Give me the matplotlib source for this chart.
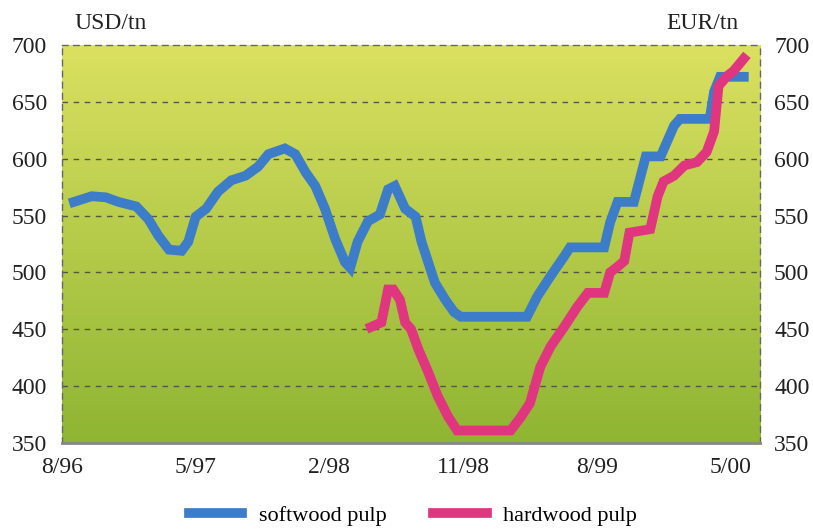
import matplotlib.pyplot as plt
import numpy as np

# months since Aug 1996
soft_x = [0.8, 2.0, 2.95, 3.8, 5.0, 5.8, 6.5, 7.2, 8.05, 8.5, 9.0, 9.7, 10.5, 11.4,
          12.35, 13.2, 13.9, 15.0, 15.7, 16.4, 17.05, 17.7, 18.4, 19.05, 19.4, 19.9,
          20.6, 21.4, 21.95, 22.4, 23.1, 23.8, 24.2, 24.8, 25.1, 25.8, 26.4, 26.85,
          31.3, 32.0, 32.9, 33.8, 34.2, 36.5, 36.9, 37.4, 38.5, 38.9, 39.3, 40.3,
          41.2, 41.6, 43.6, 43.9, 44.3, 45.9]
soft_y = [562, 567, 566, 562, 558, 547, 532, 520, 519, 527, 549, 556, 571, 581,
          585, 593, 604, 609, 604, 588, 576, 556, 529, 509, 504, 527,
          545, 551, 573, 576, 556, 549, 527, 503, 491, 476, 465, 461,
          461, 479, 497, 514, 522, 522, 544, 562, 562, 582, 602, 602,
          629, 635, 635, 659, 672, 672]

hard_x = [20.8, 21.5, 21.95, 22.3, 22.75, 23.1, 23.5, 24.0, 24.6, 25.3, 26.0, 26.6,
          30.2, 30.9, 31.5, 32.2, 32.9, 33.8, 34.7, 35.4, 36.5, 36.9, 37.4, 37.85,
          38.2, 39.6, 40.1, 40.5, 41.2, 41.9, 42.75, 43.4, 43.9, 44.2, 44.8, 45.2, 45.9]
hard_y = [452, 456, 485, 485, 476, 456, 450, 432, 414, 391, 373, 361,
          361, 373, 385, 417, 435, 452, 470, 482, 482, 500, 505, 510,
          535, 538, 567, 580, 585, 594, 597, 606, 624, 664, 673, 677, 688]

tick_pos = [0, 9, 18, 27, 36, 45]
tick_labels = ["8/96", "5/97", "2/98", "11/98", "8/99", "5/00"]
y_ticks = [350, 400, 450, 500, 550, 600, 650, 700]

BLUE = "#3d7cc9"
PINK = "#e0367f"

plt.rcParams["font.family"] = ["Liberation Serif", "DejaVu Serif"]

fig = plt.figure(figsize=(8.13, 5.29), dpi=100)
ax = fig.add_axes([0.0763, 0.1626, 0.8587, 0.7524])

# background gradient, light yellow-green at top to green at bottom
top = np.array([0.86, 0.88, 0.38])
bot = np.array([0.56, 0.71, 0.20])
t = np.linspace(0, 1, 256)[:, None]
grad = (top * (1 - t) + bot * t)[:, None, :]
ax.imshow(grad, extent=[0, 47, 350, 700], aspect="auto", zorder=0, origin="upper")

for v in y_ticks[1:-1]:
    ax.axhline(v, color="#555544", linestyle=(0, (4, 4)), linewidth=1.0, zorder=1)

ax.plot(soft_x, soft_y, color=BLUE, linewidth=7, solid_joinstyle="miter", zorder=3,
        label="softwood pulp")
ax.plot(hard_x, hard_y, color=PINK, linewidth=7, solid_joinstyle="miter", zorder=4,
        label="hardwood pulp")

ax.set_xlim(0, 47)
ax.set_ylim(350, 700)
ax.set_xticks(tick_pos)
ax.set_xticklabels(tick_labels)
ax.set_yticks(y_ticks)
ax.tick_params(length=0, labelsize=17, colors="#222222", pad=11)
ax.tick_params(axis="x", pad=10)

for side in ["top", "left", "right"]:
    ax.spines[side].set_linestyle((0, (4, 4)))
    ax.spines[side].set_color("#666666")
    ax.spines[side].set_linewidth(1.0)
ax.spines["bottom"].set_color("#888888")
ax.spines["bottom"].set_linewidth(2.0)

ax2 = ax.twinx()
ax2.set_ylim(350, 700)
ax2.set_yticks(y_ticks)
ax2.tick_params(length=0, labelsize=17, colors="#222222", pad=10)
for s in ax2.spines.values():
    s.set_visible(False)

fig.text(0.092, 0.955, "USD/tn", fontsize=17, color="#222222", va="center")
fig.text(0.82, 0.955, "EUR/tn", fontsize=17, color="#222222", va="center")

handles, labels = ax.get_legend_handles_labels()
fig.legend(handles, labels, loc="center", bbox_to_anchor=(0.508, 0.025), ncol=2,
           frameon=False, fontsize=16, handlelength=2.4, columnspacing=2.1,
           handletextpad=0.75)

fig.savefig("out.png", dpi=100)
